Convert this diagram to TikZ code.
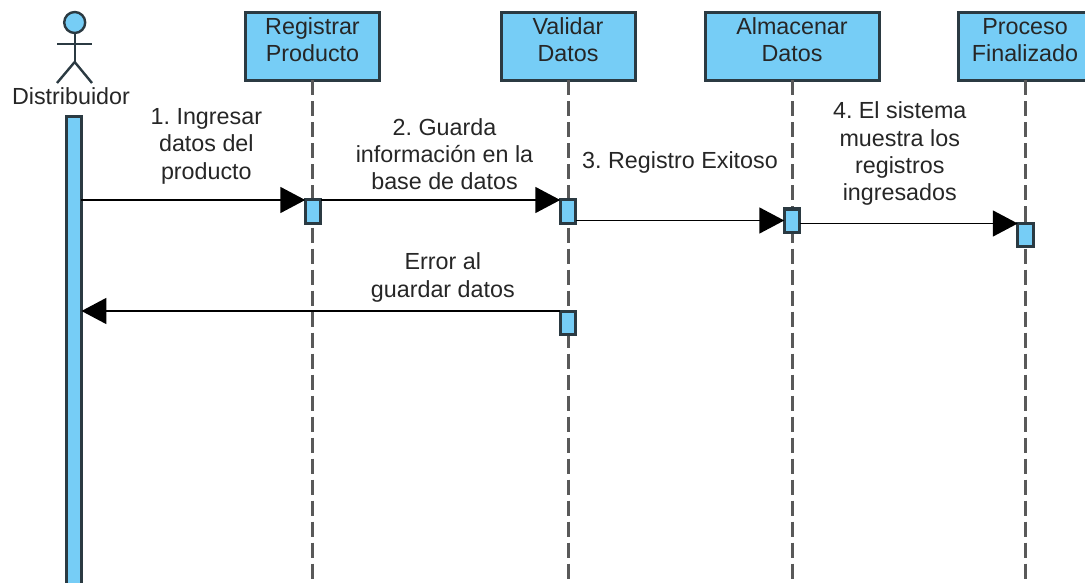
\documentclass[tikz,border=0pt]{standalone}
\usepackage{fontspec}
\setmainfont{Liberation Sans}
\usetikzlibrary{positioning,arrows.meta}
\definecolor{boxblue}{HTML}{76CDF6}
\definecolor{boxline}{HTML}{2B3A42}
\definecolor{inkgray}{HTML}{262626}
\begin{document}
\frenchspacing
\begin{tikzpicture}[
      x=1pt, y=-1pt,
      every node/.style={text=inkgray, font=\fontsize{23.3}{27.3}\selectfont},
      lifebox/.style={draw=boxline, fill=boxblue, line width=3pt, align=center, anchor=north, minimum height=67.5pt, inner sep=0pt, outer sep=0pt, text depth=14pt},
      activation/.style={draw=boxline, fill=boxblue, line width=3pt, anchor=north, minimum width=15.5pt, minimum height=23pt, inner sep=0pt, outer sep=0pt},
      lifeline/.style={draw=black!65, line width=3pt, dash pattern=on 15pt off 6pt},
      stick/.style={draw=boxline, line width=2.4pt},
      msg/.style={draw=black, line width=1.8pt, -{Triangle[length=25pt,width=26pt]}},
      msglabel/.style={align=center, inner sep=0pt}
    ]
    \useasboundingbox (0,0) rectangle (1085,583);

    % Actor
    \node[circle, draw=boxline, fill=boxblue, line width=2.4pt, minimum size=21pt, inner sep=0pt, outer sep=0pt] (head) at (74.7,22.5) {};
    \coordinate (hip) at (74.7,62);
    \coordinate (armleft) at (57,44);
    \coordinate (armright) at (92,44);
    \coordinate (footleft) at (57,83);
    \coordinate (footright) at (92,83);
    \draw[stick] (head) -- (hip);
    \draw[stick] (armleft) -- (armright);
    \draw[stick] (footleft) -- (hip) -- (footright);
    \node (actor) at (71,96) {Distribuidor};
    \node[activation, minimum width=14.5pt, minimum height=480pt] (bar) at (74.2,117) {};

    % Lifeline heads
    \node[lifebox, minimum width=134pt] (reg) at (312.5,13) {Registrar\\Producto};
    \node[lifebox, minimum width=134pt] (val) at (568,13) {Validar\\Datos};
    \node[lifebox, minimum width=174pt] (alm) at (792,13) {Almacenar\\Datos};
    \node[lifebox, minimum width=134pt] (pro) at (1025,13) {Proceso\\Finalizado};

    % Dashed lines
    \coordinate (regend) at (312.5,590);
    \coordinate (valend) at (568,590);
    \coordinate (almend) at (792,590);
    \coordinate (proend) at (1025,590);
    \draw[lifeline] (reg.south) -- (regend);
    \draw[lifeline] (val.south) -- (valend);
    \draw[lifeline] (alm.south) -- (almend);
    \draw[lifeline] (pro.south) -- (proend);

    % Activations
    \node[activation] (regact) at (313,200) {};
    \node[activation] (valact) at (568,200) {};
    \node[activation] (almact) at (792,209) {};
    \node[activation] (proact) at (1025.5,223.5) {};
    \node[activation] (erract) at (568,311) {};

    % Arrows
    \draw[msg] (bar.east |- regact.north) -- node[msglabel, above=15pt, xshift=13pt] {1. Ingresar\\datos del\\producto} (regact.north west);
    \draw[msg] (regact.north east) -- node[msglabel, above=9pt, xshift=4pt] {2. Guarda\\información en la\\base de datos} (valact.north west);
    \draw[msg] (valact.east |- almact.west) -- node[msglabel, above=46pt] {3. Registro Exitoso} (almact.west);
    \draw[msg] (almact.east |- proact.north) -- node[msglabel, above=17pt, xshift=-9pt] {4. El sistema\\muestra los\\registros\\ingresados} (proact.north west);
    \draw[msg] (erract.north west) -- node[msglabel, above=8pt, xshift=122pt] {Error al\\guardar datos} (bar.east |- erract.north);

  \end{tikzpicture}
\end{document}
